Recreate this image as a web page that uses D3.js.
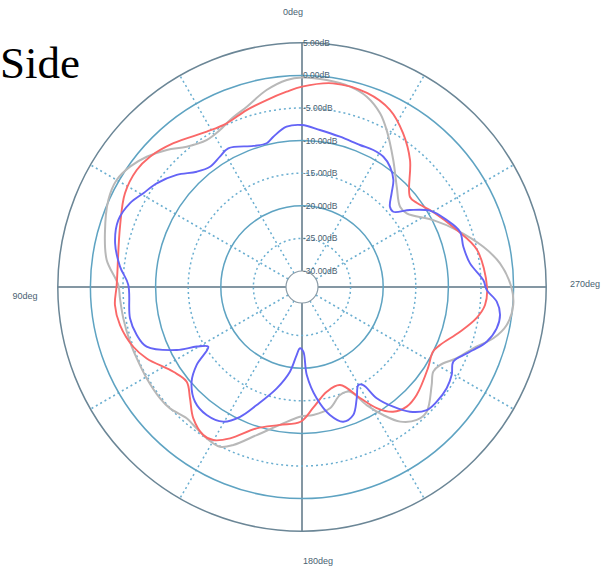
<!DOCTYPE html>
<html><head><meta charset="utf-8">
<script src="https://cdn.jsdelivr.net/npm/d3@7"></script>
<style>body{margin:0;background:#fff}svg{display:block}</style>
</head><body>
<svg id="c" width="602" height="570"></svg>
<script>
// angles in degrees, counter-clockwise from top (0deg top, 90deg left, 270deg right)
const ringDb = [-30, -25, -20, -15, -10, -5, 0, 5];
const ringLabels = ["-30.00dB","-25.00dB","-20.00dB","-15.00dB","-10.00dB","-5.00dB","0.00dB","5.00dB"];
const spokeAngles = [0, 30, 60, 90, 120, 150, 180, 210, 240, 270, 300, 330];
const angleLabels = ["0deg", "90deg", "180deg", "270deg"];

const grayAngle = [0,4.2,10.2,17,23.3,27.6,33,39.4,44.6,50,55,60,65.8,74.8,82.1,89.4,93.6,99.9,107.6,113.3,120.4,128.1,132.6,138.7,141.8,147.8,152.8,156.5,163,170.9,179.1,185,193,199.4,204.6,208.7,212.4,216.1,220.8,225,232.9,237.2,240.5,245.3,250.3,255,259.5,265.1,270,276.8,282.5,290.2,297,305.1,309.3,316.6,324.3,331.7,335.8,341.2,346.5,353.2];
const grayDb = [-0.32,-0.61,-1.76,-3.53,-4.56,-5.29,-5.58,-4.60,-2.93,-1.37,-0.26,0.37,0.11,-1.13,-2.21,-4.28,-4.48,-4.63,-4.77,-4.85,-4.82,-4.79,-4.95,-5.66,-5.51,-5.03,-4.92,-6.03,-8.71,-11.03,-12.56,-12.75,-13.36,-14.89,-14.79,-11.81,-9.20,-6.90,-5.52,-5.40,-7.52,-8.50,-8.14,-6.33,-4.56,-2.07,-0.52,0.06,-0.35,-1.87,-3.97,-7.16,-9.85,-12.82,-13.02,-11.30,-8.47,-5.09,-3.25,-1.63,-0.86,-0.48];

const redAngle = [0,4.5,10.7,17.4,24.7,31.5,41.8,49.4,54.7,62.1,71.7,89.4,95.5,101.8,109.5,114.7,123.4,129.4,134.8,140.4,146.3,149.9,154.6,162.2,170.9,179.4,185.2,193.3,201.2,207.6,211.7,216.1,221.2,226.7,237.3,243.7,247.2,254.2,260,264.4,270,282,290.2,299.8,306.1,309.8,319.6,326.7,333.6,341.5,351.4];
const redDb = [-1.73,-2.41,-3.27,-4.02,-4.82,-4.51,-2.87,-1.75,-1.40,-1.73,-3.05,-4.03,-3.63,-3.94,-5.00,-6.24,-8.83,-9.57,-8.24,-6.30,-5.17,-5.32,-6.75,-9.69,-11.03,-11.79,-13.82,-15.95,-16.33,-13.25,-10.64,-8.77,-8.07,-8.30,-9.48,-10.06,-9.49,-7.27,-5.25,-4.25,-4.08,-5.02,-7.15,-9.29,-10.61,-10.89,-6.89,-4.23,-2.13,-1.07,-0.86];

const blueAngle = [0,5.5,10.8,13.8,19,28,32.2,37.4,42.4,48.2,54.5,59.4,64,70,76.8,83.6,89.3,100.3,106.2,111,116.7,119.5,122.5,126.5,130.6,137,143.3,149.7,154.5,159,166,171.9,175.5,178.1,181.2,183.1,187.5,192.3,197,201.8,206.2,209.9,212,213.9,217.3,220.9,225.4,229.6,235,239.6,243.7,247.1,249.8,253.5,258,262,265.7,269.1,272.2,278,284,289.3,294.8,300.8,305.5,309.5,312.4,316.3,319.5,323.8,328,332.5,337.8,345.8,353.5];
const blueDb = [-7.61,-7.76,-8.99,-9.75,-9.57,-8.36,-8.83,-9.23,-8.51,-6.67,-5.08,-4.19,-3.11,-2.47,-3.01,-4.37,-5.81,-5.64,-6.06,-6.93,-10.95,-13.90,-15.41,-12.36,-10.15,-8.39,-7.98,-8.53,-10.40,-13.07,-16.44,-19.34,-21.99,-23.05,-22.53,-18.94,-15.23,-12.36,-10.84,-11.30,-13.44,-15.12,-14.72,-11.90,-9.37,-7.15,-5.58,-5.32,-5.37,-5.83,-6.58,-5.61,-4.46,-2.91,-1.93,-1.78,-2.50,-4.13,-4.63,-6.43,-6.95,-6.78,-7.99,-9.60,-12.12,-14.31,-14.19,-12.56,-10.87,-9.60,-8.90,-8.77,-8.93,-8.68,-8.22];

const series = [
  {name: "gray", angle: grayAngle, db: grayDb, color: "#b8b8b8", w: 2},
  {name: "red", angle: redAngle, db: redDb, color: "#fa6868", w: 1.9},
  {name: "blue", angle: blueAngle, db: blueDb, color: "#6464f6", w: 1.9}
];

const cx = 302, cy = 287;
const r = d3.scaleLinear().domain([-30, 5]).range([16, 244.2]);
const svg = d3.select("#c");
const g = svg.append("g").attr("transform", `translate(${cx},${cy})`);
const rad = a => -a * Math.PI / 180;

// spokes
spokeAngles.forEach(a => {
  const main = a % 90 === 0;
  const t = rad(a);
  g.append("line")
    .attr("x1", r(-30) * Math.sin(t)).attr("y1", -r(-30) * Math.cos(t))
    .attr("x2", r(5) * Math.sin(t)).attr("y2", -r(5) * Math.cos(t))
    .attr("stroke", main ? "#5b7585" : "#6aaed0")
    .attr("stroke-width", main ? 1.5 : 1.5)
    .attr("stroke-dasharray", main ? null : "2,3");
});

// rings
ringDb.forEach(d => {
  let stroke = "#5ea3c2", dash = null, w = 1.5, fill = "none";
  if (d === 5) { stroke = "#6b8696"; }
  else if (d === -30) { stroke = "#8b9ba6"; fill = "#fff"; w = 1.2; }
  else if (d === -5 || d === -15 || d === -25) { stroke = "#6aaed0"; dash = "2,3"; w = 1.5; }
  g.append("circle").attr("r", r(d)).attr("fill", fill)
    .attr("stroke", stroke).attr("stroke-width", w).attr("stroke-dasharray", dash);
});

// curves
const line = d3.lineRadial().curve(d3.curveCatmullRomClosed.alpha(0.5));
series.forEach(s => {
  const pts = s.angle.map((a, i) => [rad(a), r(s.db[i])]);
  g.append("path").attr("d", line(pts)).attr("fill", "none")
    .attr("stroke", s.color).attr("stroke-width", s.w).attr("stroke-linejoin", "round");
});

// dB labels
ringDb.forEach((d, i) => {
  g.append("text").attr("x", 1).attr("y", -r(d)).attr("dy", "0.35em")
    .attr("font-family", "Arial, 'Liberation Sans', sans-serif").attr("font-size", 8.5)
    .attr("fill", "#4a6272").text(ringLabels[i]);
});

// angle labels
const angPos = [[293, 12], [25, 296], [318, 561], [585, 284]];
angleLabels.forEach((t, i) => {
  svg.append("text").attr("x", angPos[i][0]).attr("y", angPos[i][1]).attr("dy", "0.35em")
    .attr("text-anchor", "middle")
    .attr("font-family", "Arial, 'Liberation Sans', sans-serif").attr("font-size", 9)
    .attr("fill", "#4a6272").text(t);
});

// title
svg.append("text").attr("x", 0).attr("y", 78)
  .attr("font-family", "'Liberation Serif', 'Times New Roman', serif").attr("font-size", 45)
  .attr("fill", "#000").text("Side");
</script>
</body></html>
